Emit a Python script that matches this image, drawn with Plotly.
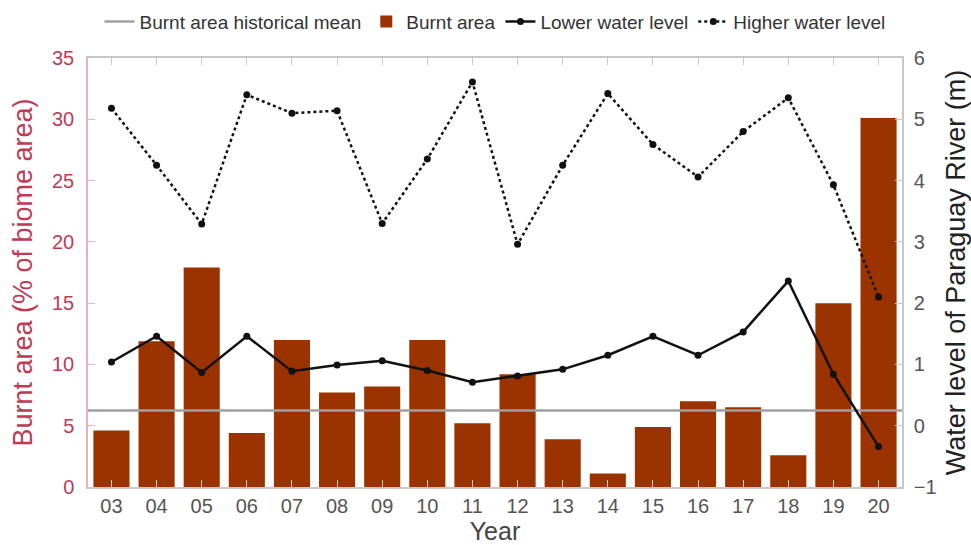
import plotly.graph_objects as go

# Years (2003-2020) shown as two-digit labels
years = ["03", "04", "05", "06", "07", "08", "09", "10", "11",
         "12", "13", "14", "15", "16", "17", "18", "19", "20"]

# Burnt area (% of biome area)
burnt_area = [4.6, 11.9, 17.9, 4.4, 12.0, 7.7, 8.2, 12.0, 5.2,
              9.2, 3.9, 1.1, 4.9, 7.0, 6.5, 2.6, 15.0, 30.1]
burnt_mean = 6.25

# Water level of Paraguay River (m)
lower_level = [1.04, 1.46, 0.87, 1.46, 0.89, 0.99, 1.06, 0.90, 0.71,
               0.81, 0.92, 1.15, 1.46, 1.15, 1.53, 2.36, 0.84, -0.34]
higher_level = [5.18, 4.25, 3.29, 5.40, 5.10, 5.14, 3.30, 4.35, 5.61,
                2.96, 4.25, 5.42, 4.59, 4.06, 4.80, 5.35, 3.93, 2.10]

x = list(range(len(years)))
x_range = [-0.52, len(years) - 1 + 0.52]

FONT = "Liberation Sans, Arial, sans-serif"
RED = "#c03a55"
BAR = "#9a3300"

fig = go.Figure()

fig.add_trace(go.Scatter(
    x=x_range, y=[burnt_mean, burnt_mean], mode="lines",
    line=dict(color="#a0a0a0", width=2.5),
    name="Burnt area historical mean", yaxis="y"))

fig.add_trace(go.Bar(
    x=x, y=burnt_area, width=0.8, marker=dict(color=BAR, line=dict(width=0)),
    name="Burnt area", yaxis="y"))

fig.add_trace(go.Scatter(
    x=x, y=lower_level, mode="lines+markers",
    line=dict(color="#111111", width=2.5),
    marker=dict(color="#111111", size=7),
    name="Lower water level", yaxis="y2"))

fig.add_trace(go.Scatter(
    x=x, y=higher_level, mode="lines+markers",
    line=dict(color="#111111", width=2.5, dash="dot"),
    marker=dict(color="#111111", size=7),
    name="Higher water level", yaxis="y2"))

fig.update_layout(
    width=971, height=545,
    margin=dict(l=88, r=69, t=58, b=58, autoexpand=False),
    paper_bgcolor="white", plot_bgcolor="white",
    font=dict(family=FONT, size=20, color="#444"),
    showlegend=True,
    legend=dict(orientation="h", x=0.5, xanchor="center", y=1.085, yanchor="middle",
                font=dict(size=19, color="#333"), traceorder="normal",
                itemwidth=30, tracegroupgap=0, bgcolor="rgba(0,0,0,0)"),
    bargap=0.2,
    xaxis=dict(
        range=x_range, tickmode="array", tickvals=x, ticktext=years,
        showgrid=False, zeroline=False,
        showline=True, linecolor="#c8c8c8", linewidth=1.5, mirror="ticks",
        ticks="inside", ticklen=7, tickcolor="#c8c8c8",
        tickfont=dict(size=20, color="#555"),
        title=dict(text="Year", font=dict(size=25, color="#444"), standoff=2)),
    yaxis=dict(
        range=[0, 35], dtick=5, showgrid=False, zeroline=False,
        showline=True, linecolor="#eab0bd", linewidth=1.5,
        ticks="inside", ticklen=7, tickcolor="#eab0bd",
        tickfont=dict(size=20, color=RED), ticklabelstandoff=8,
        title=dict(text="Burnt area (% of biome area)",
                   font=dict(size=27, color=RED), standoff=12)),
    yaxis2=dict(
        range=[-1, 6], dtick=1, overlaying="y", side="right",
        showgrid=False, zeroline=False,
        showline=True, linecolor="#c8c8c8", linewidth=1.5,
        ticks="inside", ticklen=7, tickcolor="#c8c8c8",
        tickfont=dict(size=20, color="#555"), ticklabelstandoff=6,
        title=dict(text="Water level of Paraguay River (m)",
                   font=dict(size=27, color="#222"), standoff=14)),
)

fig.write_html("out.html")
